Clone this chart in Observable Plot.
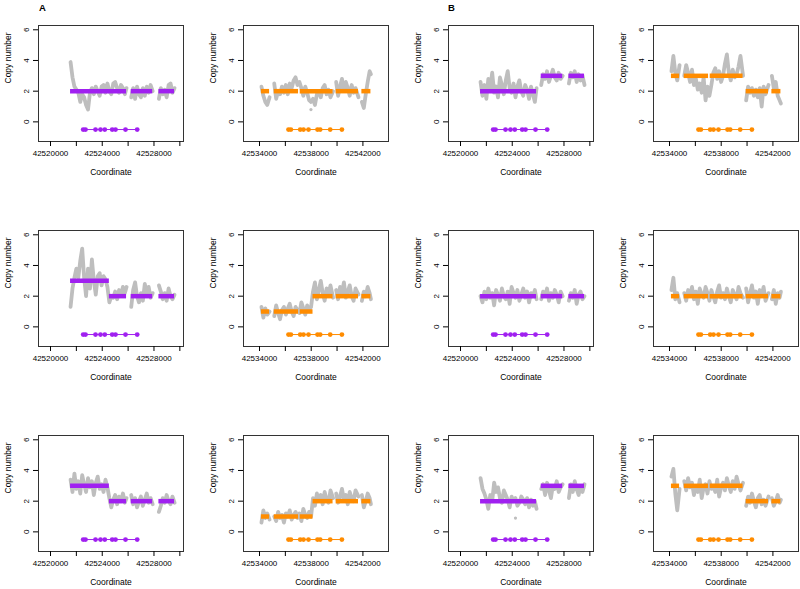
<!DOCTYPE html>
<html><head><meta charset="utf-8">
<script src="https://cdn.jsdelivr.net/npm/d3@7"></script>
<script src="https://cdn.jsdelivr.net/npm/@observablehq/plot@0.6"></script>
<style>
body{margin:0;background:#fff;}
#fig{position:relative;width:800px;height:589px;overflow:hidden;font-family:"Liberation Sans",Arial,Helvetica,sans-serif;}
.panel{position:absolute;}
#tags{position:absolute;left:0;top:0;}
</style></head><body><div id="fig"><svg id="tags" width="800" height="20"><text x="39" y="10.5" font-weight="bold" font-size="9.5" font-family="Liberation Sans, Arial, sans-serif">A</text><text x="448" y="10.5" font-weight="bold" font-size="9.5" font-family="Liberation Sans, Arial, sans-serif">B</text></svg></div>
<script>
// ---- probe coordinates (group 1: columns A-left / B-left; group 2: columns A-right / B-right)
const xA1 = [42521550, 42521700, 42521850, 42522000, 42522150, 42522300, 42522450, 42522600, 42522750, 42522900, 42523050, 42523200, 42523350, 42523500, 42523650, 42523800, 42523950, 42524100, 42524250, 42524400, 42524550, 42524700, 42524850, 42525000, 42525150, 42525300, 42525450, 42525600, 42525750, 42525880];
const xB1 = [42526240, 42526390, 42526540, 42526690, 42526840, 42526990, 42527140, 42527290, 42527440, 42527590, 42527740, 42527900];
const xC1 = [42528380, 42528530, 42528680, 42528830, 42528980, 42529130, 42529280, 42529430, 42529590];
const xR1 = [42534150, 42534300, 42534450, 42534600, 42534780];
const xR23 = [42535140, 42535290, 42535440, 42535590, 42535740, 42535890, 42536040, 42536190, 42536340, 42536490, 42536640, 42536790, 42536940, 42537090, 42537240, 42537390, 42537540, 42537690, 42537840, 42537990, 42538140, 42538290, 42538440, 42538590, 42538740, 42538890, 42539040, 42539190, 42539340, 42539490, 42539690];
const xR4 = [42539930, 42540080, 42540230, 42540380, 42540530, 42540680, 42540830, 42540980, 42541130, 42541280, 42541430, 42541660];
const xR5 = [42541920, 42542070, 42542220, 42542370, 42542520, 42542620];

// ---- axis ticks
const ticks1 = [42520000, 42522000, 42524000, 42526000, 42528000, 42530000];
const labels1 = [42520000, 42524000, 42528000];
const ticks2 = [42534000, 42536000, 42538000, 42540000, 42542000];
const labels2 = [42534000, 42538000, 42542000];
const yTicks = [0, 2, 4, 6];

// ---- gene exons (drawn at copy number -0.5)
const exons1 = [42522528, 42522706, 42523479, 42523865, 42524197, 42524769, 42525025, 42525798, 42526702];
const exons2 = [42536244, 42536429, 42537149, 42537404, 42537791, 42538487, 42538696, 42539470, 42540375];

// ---- copy number read-outs (gray) per panel, per probe block
const cnR1C1 = [[3.9, 2.9, 2.3, 2.1, 1.9, 1.3, 1.8, 1.6, 1.1, 0.8, 1.9, 2.2, 1.8, 2.3, 2.0, 1.7, 2.3, 2.4, 1.9, 2.5, 2.0, 1.8, 2.5, 2.6, 2.2, 1.9, 2.4, 2.2, 1.8, 2.2],
  [1.6, 2.2, 1.5, 2.3, 1.8, 1.6, 2.2, 1.7, 2.3, 1.9, 2.4, 2.0],
  [1.5, 2.2, 1.8, 2.1, 1.6, 2.4, 2.5, 1.9, 2.2]];
const cnR2C1 = [[1.3, 2.5, 3.2, 3.8, 3.2, 4.3, 5.1, 3.2, 2.0, 3.8, 2.5, 4.4, 3.0, 2.1, 3.3, 3.5, 2.7, 3.3, 3.1, 2.6, 1.6, 2.0, 1.9, 2.3, 1.8, 2.4, 2.1, 2.6, 2.2, 2.6],
  [1.3, 2.4, 2.9, 2.0, 1.6, 2.2, 1.7, 2.8, 2.1, 2.6, 1.9, 2.2],
  [2.7, 2.3, 1.8, 2.2, 1.7, 2.5, 2.0, 1.8, 2.1]];
const cnR3C1 = [[3.4, 2.6, 3.8, 2.8, 3.3, 2.5, 3.7, 3.1, 2.6, 3.5, 2.9, 3.3, 2.4, 3.2, 3.6, 2.8, 3.1, 2.6, 3.4, 2.9, 2.2, 1.6, 2.1, 2.4, 1.8, 2.3, 2.0, 2.5, 1.9, 2.2],
  [2.4, 1.8, 2.2, 1.6, 2.0, 2.3, 1.7, 2.1, 2.5, 1.9, 2.2, 1.8],
  [1.3, 1.7, 2.2, 1.9, 2.4, 2.0, 1.8, 2.3, 1.9]];
const cnR1C3 = [[2.6, 1.7, 2.4, 1.5, 2.8, 2.2, 3.2, 1.9, 2.3, 1.6, 2.9, 2.4, 1.8, 2.7, 3.3, 2.2, 1.9, 2.5, 1.6, 2.3, 2.7, 2.0, 1.7, 2.4, 2.1, 1.5, 2.3, 1.8, 1.3, 2.2],
  [2.4, 3.1, 2.8, 3.3, 2.6, 3.0, 3.4, 2.9, 2.7, 3.2, 2.8, 3.0],
  [2.5, 3.2, 2.9, 3.3, 2.6, 3.1, 2.7, 3.0, 2.4]];
const cnR2C3 = [[2.0, 1.6, 2.3, 1.8, 2.5, 1.9, 2.2, 1.4, 2.4, 2.1, 1.7, 2.5, 2.0, 1.8, 2.3, 1.5, 2.6, 2.2, 1.9, 2.4, 1.7, 2.1, 2.5, 1.9, 2.3, 1.6, 2.2, 2.0, 2.4, 1.8],
  [1.8, 2.3, 2.0, 2.5, 1.7, 2.2, 1.9, 2.4, 2.1, 1.6, 2.3, 2.0],
  [1.7, 2.2, 1.9, 2.4, 1.5, 2.1, 2.3, 1.8, 2.0]];
const cnR3C3 = [[3.5, 2.8, 2.5, 2.1, 1.5, 2.4, 2.0, 3.2, 2.6, 2.9, 2.2, 1.9, 2.7, 2.4, 2.1, 1.6, 2.3, 2.0, 2.2, 1.7, 1.9, 2.3, 2.1, 1.8, 2.2, 1.6, 2.1, 1.7, 2.0, 1.5],
  [2.8, 3.1, 2.4, 3.2, 2.7, 2.2, 3.0, 2.8, 3.3, 2.6, 2.9, 3.1],
  [2.2, 3.1, 2.6, 3.3, 2.8, 2.4, 3.0, 2.6, 3.1]];
const cnR1C2 = [[2.3, 1.7, 1.3, 1.1, 1.6],
  [2.5, 1.5, 2.0, 1.8, 2.3, 1.9, 2.4, 1.8, 2.5, 2.2, 2.7, 2.9, 2.4, 2.6, 2.2, 1.7, 2.3, 1.9, 1.4, 1.3, 1.5, 1.1, 1.8, 2.0, 1.6, 2.2, 2.4, 1.8, 2.1, 1.6, 2.0],
  [2.6, 1.7, 2.3, 2.8, 2.0, 2.6, 2.2, 1.7, 2.4, 1.9, 2.2, 1.6],
  [1.3, 0.9, 1.8, 2.6, 3.3, 3.1]];
const cnR2C2 = [[1.3, 0.6, 1.2, 0.8, 1.0],
  [0.7, 1.4, 0.9, 0.5, 1.1, 1.3, 0.8, 1.2, 1.5, 1.0, 0.7, 1.3, 1.1, 0.9, 1.6, 1.2, 0.8, 1.4, 1.1, 1.3, 2.3, 2.9, 1.8, 2.4, 3.0, 2.2, 1.7, 2.5, 2.1, 2.7, 1.9],
  [2.4, 1.8, 2.6, 2.2, 2.9, 1.9, 2.3, 2.7, 2.0, 1.7, 2.5, 2.1],
  [1.7, 2.3, 2.0, 2.6, 2.2, 1.8]];
const cnR3C2 = [[0.6, 1.4, 0.9, 1.2, 0.8],
  [1.0, 0.7, 1.3, 0.9, 1.1, 0.6, 1.2, 1.0, 1.4, 0.8, 1.1, 1.3, 0.9, 1.2, 0.7, 1.5, 1.1, 0.9, 1.3, 1.0, 2.2, 1.7, 2.5, 2.0, 2.4, 1.8, 2.6, 2.1, 1.9, 2.7, 2.2],
  [2.5, 1.9, 2.3, 2.8, 2.1, 2.4, 1.8, 2.6, 2.2, 2.0, 2.7, 2.3],
  [2.4, 1.6, 2.0, 2.5, 2.2, 1.8]];
const cnR1C4 = [[3.3, 4.3, 3.2, 2.7, 3.7],
  [3.0, 3.7, 3.2, 2.6, 3.4, 2.4, 2.8, 2.1, 2.5, 1.9, 2.9, 1.4, 2.3, 1.7, 2.4, 3.2, 3.5, 2.8, 3.3, 2.6, 3.0, 3.8, 4.4, 3.2, 2.7, 3.4, 2.9, 3.1, 3.6, 4.3, 3.0],
  [1.4, 2.3, 1.9, 2.2, 1.7, 2.1, 1.6, 2.2, 1.0, 2.3, 1.8, 2.4],
  [3.0, 2.2, 2.6, 1.7, 1.4, 1.2]];
const cnR2C4 = [[2.4, 3.2, 1.8, 2.2, 1.6],
  [2.2, 1.7, 2.4, 2.0, 2.6, 1.8, 2.3, 1.5, 2.5, 2.1, 1.9, 2.6, 2.2, 1.7, 2.4, 2.0, 1.6, 2.3, 2.7, 1.9, 2.2, 1.8, 2.5, 2.0, 1.6, 2.4, 2.1, 1.8, 2.6, 2.2, 1.9],
  [2.5, 1.6, 2.2, 2.7, 1.9, 2.3, 1.5, 2.4, 2.0, 2.6, 1.7, 2.2],
  [1.8, 2.4, 1.5, 2.2, 1.9, 2.3]];
const cnR3C4 = [[3.6, 4.1, 2.5, 1.4, 2.8],
  [3.3, 2.7, 3.5, 2.9, 3.2, 2.4, 3.0, 2.6, 3.4, 2.2, 2.9, 3.1, 2.5, 3.3, 2.8, 3.0, 2.6, 3.4, 2.3, 2.9, 3.2, 2.7, 3.5, 3.0, 2.6, 3.3, 2.8, 3.6, 3.1, 2.7, 3.2],
  [1.7, 2.3, 1.9, 2.5, 2.0, 1.6, 2.2, 2.4, 1.8, 2.1, 1.7, 2.3],
  [2.2, 1.7, 2.0, 2.4, 1.9, 2.1]];

// ---- isolated low read-outs
const outR1C2 = [[42537980, 0.8]];
const outR3C3 = [[42524250, 0.9]];

// ---- called integer copy-number segments [start, end, copy number]
const segR1C1 = [[42521550, 42525880, 2], [42526240, 42527900, 2], [42528380, 42529590, 2]];
const segR2C1 = [[42521550, 42524550, 3], [42524550, 42525880, 2], [42526240, 42527900, 2], [42528380, 42529590, 2]];
const segR3C1 = [[42521550, 42524550, 3], [42524550, 42525880, 2], [42526240, 42527900, 2], [42528380, 42529590, 2]];
const segR1C3 = [[42521550, 42525880, 2], [42526240, 42527900, 3], [42528380, 42529590, 3]];
const segR2C3 = [[42521550, 42525880, 2], [42526240, 42527900, 2], [42528380, 42529590, 2]];
const segR3C3 = [[42521550, 42525880, 2], [42526240, 42527900, 3], [42528380, 42529590, 3]];
const segR1C2 = [[42534150, 42534780, 2], [42535140, 42537020, 2], [42537150, 42539690, 2], [42539930, 42541660, 2], [42541920, 42542620, 2]];
const segR2C2 = [[42534150, 42534780, 1], [42535140, 42537020, 1], [42537150, 42538140, 1], [42538140, 42539690, 2], [42539930, 42541660, 2], [42541920, 42542620, 2]];
const segR3C2 = [[42534150, 42534780, 1], [42535140, 42537020, 1], [42537150, 42538140, 1], [42538140, 42539690, 2], [42539930, 42541660, 2], [42541920, 42542620, 2]];
const segR1C4 = [[42534150, 42534780, 3], [42535140, 42537020, 3], [42537150, 42539690, 3], [42539930, 42541660, 2], [42541920, 42542620, 2]];
const segR2C4 = [[42534150, 42534780, 2], [42535140, 42537020, 2], [42537150, 42539690, 2], [42539930, 42541660, 2], [42541920, 42542620, 2]];
const segR3C4 = [[42534150, 42534780, 3], [42535140, 42537020, 3], [42537150, 42539690, 3], [42539930, 42541660, 2], [42541920, 42542620, 2]];

const purple = "#a020f0", orange = "#ff8c00", gray = "#bebebe";

const group1 = {blocks: [xA1, xB1, xC1], domain: [42519072, 42530282], ticks: ticks1, labels: labels1, exons: exons1, color: purple};
const group2 = {blocks: [xR1, xR23, xR4, xR5], domain: [42532762, 42543980], ticks: ticks2, labels: labels2, exons: exons2, color: orange};

const panels = [
  {row: 0, col: 0, g: group1, cn: cnR1C1, seg: segR1C1, out: []},
  {row: 0, col: 1, g: group2, cn: cnR1C2, seg: segR1C2, out: outR1C2},
  {row: 0, col: 2, g: group1, cn: cnR1C3, seg: segR1C3, out: []},
  {row: 0, col: 3, g: group2, cn: cnR1C4, seg: segR1C4, out: []},
  {row: 1, col: 0, g: group1, cn: cnR2C1, seg: segR2C1, out: []},
  {row: 1, col: 1, g: group2, cn: cnR2C2, seg: segR2C2, out: []},
  {row: 1, col: 2, g: group1, cn: cnR2C3, seg: segR2C3, out: []},
  {row: 1, col: 3, g: group2, cn: cnR2C4, seg: segR2C4, out: []},
  {row: 2, col: 0, g: group1, cn: cnR3C1, seg: segR3C1, out: []},
  {row: 2, col: 1, g: group2, cn: cnR3C2, seg: segR3C2, out: []},
  {row: 2, col: 2, g: group1, cn: cnR3C3, seg: segR3C3, out: outR3C3},
  {row: 2, col: 3, g: group2, cn: cnR3C4, seg: segR3C4, out: []}
];

const fig = document.getElementById("fig");
for (const p of panels) {
  const g = p.g;
  const pts = [];
  g.blocks.forEach((xs, b) => xs.forEach((x, i) => pts.push({x, y: p.cn[b][i], b})));
  const segs = p.seg.map(([x1, x2, cn]) => ({x1, x2, cn}));
  const gene = [{x1: g.exons[0], x2: g.exons[g.exons.length - 1], y: -0.5}];
  const chart = Plot.plot({
    width: 205, height: 205,
    marginLeft: 38, marginRight: 22, marginTop: 25, marginBottom: 64,
    x: {domain: g.domain},
    y: {domain: [-1.28, 6.28]},
    style: {fontFamily: "Liberation Sans, Arial, sans-serif", fontSize: "8px", color: "#000", background: "transparent", overflow: "visible"},
    marks: [
      Plot.line(pts, {x: "x", y: "y", z: "b", stroke: gray, strokeWidth: 3.8}),
      Plot.dot(p.out, {x: d => d[0], y: d => d[1], r: 1.6, fill: gray}),
      Plot.ruleY(segs, {y: "cn", x1: "x1", x2: "x2", stroke: g.color, strokeWidth: 4.5}),
      Plot.ruleY(gene, {y: "y", x1: "x1", x2: "x2", stroke: g.color, strokeWidth: 1}),
      Plot.dot(g.exons, {x: d => d, y: () => -0.5, r: 2.4, fill: g.color}),
      Plot.frame({stroke: "#333"}),
      Plot.axisX(g.ticks, {tickSize: 5, tickPadding: 4, tickFormat: d => g.labels.includes(d) ? String(d) : "", label: null}),
      Plot.axisY(yTicks, {tickSize: 5, tickPadding: 5, tickRotate: -90, tickFormat: d => String(d), label: null}),
      Plot.text(["Copy number"], {text: d => d, frameAnchor: "left", rotate: -90, dx: -30, fontSize: 8.5}),
      Plot.text(["Coordinate"], {text: d => d, frameAnchor: "bottom", dy: 33, fontSize: 8.5})
    ]
  });
  chart.classList.add("panel");
  chart.style.left = (p.col * 205) + "px";
  chart.style.top = (p.row * 205) + "px";
  fig.appendChild(chart);
}
</script>
</body></html>
